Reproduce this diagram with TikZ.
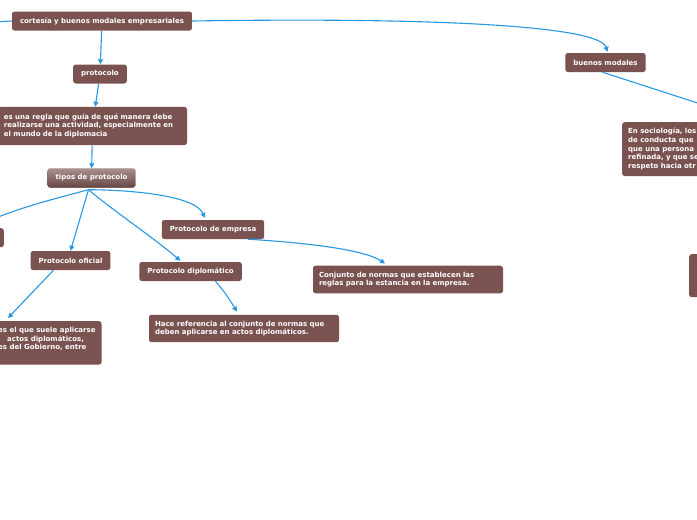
\documentclass[tikz,border=0pt]{standalone}
\usepackage{fontspec}
\setmainfont{DejaVu Sans}
\usetikzlibrary{positioning, arrows.meta, calc}
\definecolor{nodebrown}{RGB}{122,83,81}
\definecolor{linkblue}{RGB}{40,152,226}

\begin{document}
\begin{tikzpicture}[
  x=1pt, y=-1pt,
  font=\fontsize{7}{8.7}\selectfont\bfseries,
  >={Triangle[length=5pt,width=5pt]},
  topic/.style={fill=nodebrown, text=white, rounded corners=2.5pt, inner xsep=8pt, inner ysep=0pt, minimum height=19pt},
  note/.style={topic, align=left, inner xsep=6pt, inner ysep=6pt},
  selected/.style={topic, top color=nodebrown!65!white, bottom color=nodebrown!85!black},
  link/.style={draw=linkblue, line width=1.1pt, ->}
]
  \useasboundingbox (0,0) rectangle (697,520);
  \clip (0,0) rectangle (697,520);
  \fill[white] (0,0) rectangle (697,520);

  % main branch
  \node[topic] (cortesia) at (102,21) {cortesía y buenos modales empresariales};
  \node[topic] (protocolo) at (100,74) {protocolo};
  \node[note, text width=177pt] (regla) at (92.5,126) {\begin{tabular}{@{}l@{}}es una regla que guía de qué manera debe\\realizarse una actividad, especialmente en\\el mundo de la diplomacia\end{tabular}};
  \node[selected] (tipos) at (91.5,178) {tipos de protocolo};

  % tipos de protocolo
  \node[topic, anchor=north east, minimum width=60pt] (izquierda) at (4,228) {};
  \node[topic] (oficial) at (70.5,260.5) {Protocolo oficial};
  \node[topic] (diplomatico) at (190.5,271.5) {Protocolo diplomático};
  \node[topic] (empresa) at (213,229.5) {Protocolo de empresa};

  \node[note, anchor=north west] (oficialdef) at (-8,321) {es el que suele aplicarse\\\hspace*{9pt}actos diplomáticos,\\es del Gobierno, entre\\\mbox{}};
  \node[note, text width=178pt] (referencia) at (244,328.5) {Hace referencia al conjunto de normas que\\deben aplicarse en actos diplomáticos.};
  \node[note, text width=178pt] (estancia) at (408,279.5) {Conjunto de normas que establecen las\\reglas para la estancia en la empresa.};

  % buenos modales
  \node[topic] (modales) at (605.5,62.5) {buenos modales};
  \node[note, anchor=north west, text width=150pt] (sociologia) at (622,122) {En sociología, los\\de conducta que\\que una persona\\refinada, y que se\\respeto hacia otr};
  \node[topic, anchor=north west, minimum width=80pt, minimum height=43pt] (derecha) at (689,254) {};

  \coordinate (raiz) at (-40,24);
  \coordinate (modalesfuera) at (790,133);

  \draw[link] (cortesia.west) -- (raiz);
  \draw[link] (cortesia.east) .. controls (450,17) and (600,27) .. ($(modales.north)+(2,-1)$);
  \draw[link] (cortesia) -- (protocolo);
  \draw[link] (protocolo) -- (regla);
  \draw[link] (regla) -- (tipos);

  \draw[link] ($(tipos.south)+(-3,2)$) .. controls (50,200) and (10,210) .. (izquierda.north);
  \draw[link] ($(tipos.south)+(-3,2)$) -- (oficial.north);
  \draw[link] ($(tipos.south)+(-3,2)$) .. controls (115,212) and (150,235) .. ($(diplomatico.north)+(-10,-1)$);
  \draw[link] ($(tipos.south)+(-3,2)$) .. controls (135,190) and (195,196) .. ($(empresa.north)+(-8,-2)$);

  \draw[link] ($(oficial.south)+(-17,0)$) -- ($(oficialdef.north west)+(16,-3)$);
  \draw[link] ($(diplomatico.south)+(25,0)$) .. controls (226,294) .. ($(referencia.north)+(-7,-3)$);
  \draw[link] ($(empresa.south)+(35,0)$) .. controls (310,243) and (365,250) .. ($(estancia.north)+(-23,-2)$);

  \draw[link] ($(modales.south)+(-3,0)$) -- (modalesfuera);
\end{tikzpicture}
\end{document}
